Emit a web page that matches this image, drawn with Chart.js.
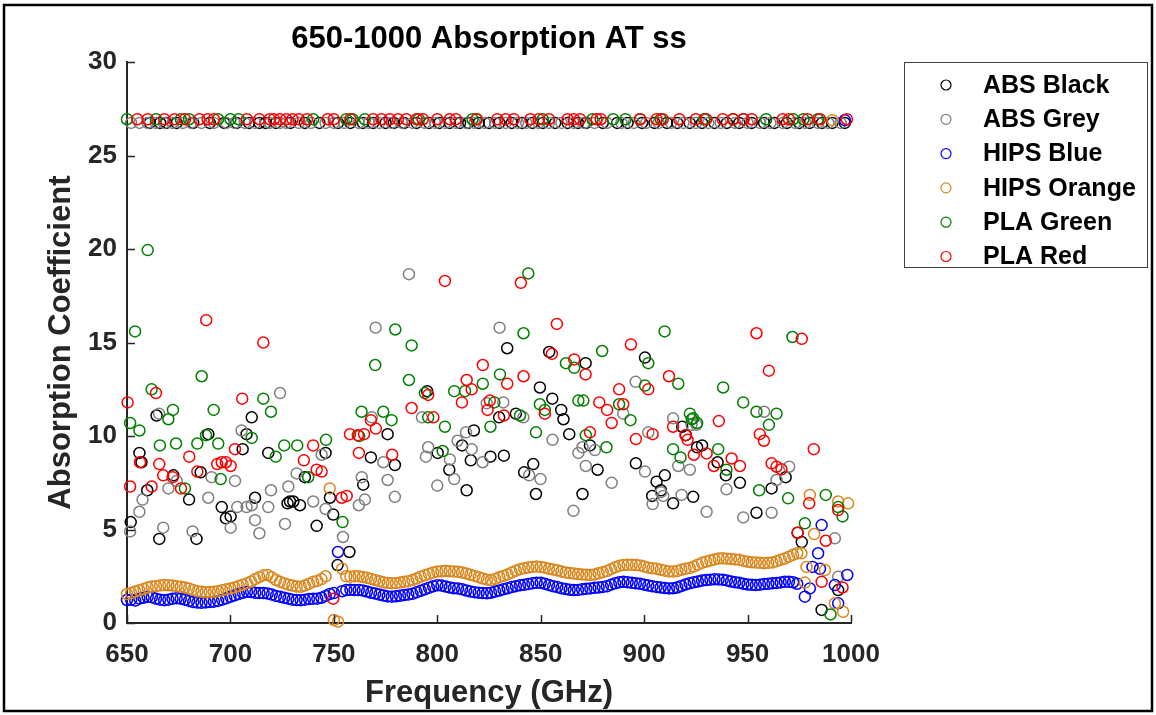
<!DOCTYPE html>
<html><head><meta charset="utf-8">
<script src="https://cdn.jsdelivr.net/npm/chart.js@4.4.0/dist/chart.umd.min.js"></script>
<style>html,body{margin:0;padding:0;background:#fff;}#wrap{width:1156px;height:715px;position:relative;}</style>
</head><body><div id="wrap"><canvas id="c" width="1156" height="715"></canvas></div>
<script>
// ---------- DATA ----------
const seriesNames = ['ABS Black','ABS Grey','HIPS Blue','HIPS Orange','PLA Green','PLA Red'];
const xTicks = [650,700,750,800,850,900,950,1000];
const yTicks = [0,5,10,15,20,25,30];

// common frequency grid of the continuous HIPS traces (GHz)
const gridFreq = [650,652,654,656,658,660,662,664,666,668,
670,672,674,676,678,680,682,684,686,688,
690,692,694,696,698,700,702,704,706,708,
710,712,714,716,718,720,722,724,726,728,
730,732,734,736,738,740,742,744,746,748,
750,752,754,756,758,760,762,764,766,768,
770,772,774,776,778,780,782,784,786,788,
790,792,794,796,798,800,802,804,806,808,
810,812,814,816,818,820,822,824,826,828,
830,832,834,836,838,840,842,844,846,848,
850,852,854,856,858,860,862,864,866,868,
870,872,874,876,878,880,882,884,886,888,
890,892,894,896,898,900,902,904,906,908,
910,912,914,916,918,920,922,924,926,928,
930,932,934,936,938,940,942,944,946,948,
950,952,954,956,958,960,962,964,966,968,
970,972,974];

const blueVal = [1.23,1.25,1.20,1.30,1.35,1.40,1.38,1.30,1.25,1.22,
1.25,1.30,1.32,1.30,1.25,1.18,1.12,1.09,1.08,1.10,
1.12,1.14,1.18,1.25,1.32,1.40,1.48,1.55,1.62,1.67,
1.66,1.62,1.60,1.60,1.58,1.52,1.45,1.40,1.35,1.30,
1.25,1.23,1.22,1.25,1.28,1.30,1.30,1.35,1.45,1.55,
1.60,3.80,1.70,1.76,1.78,1.76,1.76,1.74,1.68,1.62,
1.58,1.52,1.47,1.42,1.41,1.43,1.46,1.50,1.52,1.56,
1.64,1.72,1.80,1.88,1.96,2.02,2.00,1.95,1.90,1.86,
1.84,1.80,1.74,1.68,1.65,1.62,1.60,1.59,1.62,1.68,
1.74,1.80,1.86,1.92,1.97,2.02,2.04,2.08,2.12,2.15,
2.15,2.10,2.03,1.96,1.92,1.86,1.82,1.78,1.76,1.77,
1.80,1.83,1.85,1.88,1.90,1.93,1.96,2.05,2.12,2.18,
2.20,2.18,2.15,2.12,2.10,2.05,2.00,1.96,1.93,1.90,
1.87,1.85,1.86,1.90,1.98,2.06,2.12,2.18,2.22,2.27,
2.30,2.32,2.34,2.33,2.32,2.28,2.22,2.18,2.15,2.10,
2.06,2.04,2.03,2.05,2.08,2.10,2.12,2.14,2.17,2.20,
2.20,2.18,2.10];

const orangeVal = [1.55,1.60,1.68,1.75,1.82,1.90,1.95,1.97,2.00,2.03,
2.02,2.00,1.97,1.94,1.90,1.84,1.76,1.70,1.67,1.65,
1.66,1.67,1.70,1.75,1.80,1.85,1.90,1.98,2.05,2.12,
2.22,2.35,2.45,2.55,2.57,2.45,2.30,2.20,2.12,2.05,
2.00,1.95,1.94,2.00,2.10,2.20,2.25,2.35,2.50,7.20,
0.16,0.07,2.90,2.50,2.48,2.50,2.50,2.46,2.42,2.36,
2.30,2.24,2.18,2.14,2.12,2.13,2.16,2.20,2.24,2.30,
2.38,2.48,2.55,2.62,2.70,2.75,2.77,2.78,2.77,2.75,
2.74,2.70,2.65,2.58,2.52,2.45,2.38,2.32,2.30,2.36,
2.45,2.52,2.60,2.70,2.80,2.88,2.93,2.97,3.00,3.02,
3.00,2.96,2.90,2.86,2.82,2.76,2.70,2.67,2.65,2.62,
2.60,2.58,2.57,2.60,2.66,2.72,2.78,2.88,2.98,3.06,
3.10,3.12,3.12,3.10,3.08,3.02,2.96,2.93,2.90,2.85,
2.80,2.76,2.75,2.78,2.85,2.90,2.94,3.02,3.12,3.22,
3.28,3.34,3.40,3.45,3.46,3.44,3.42,3.40,3.38,3.32,
3.28,3.25,3.23,3.22,3.20,3.22,3.24,3.30,3.38,3.45,
3.55,3.65,3.73];

// points beyond the continuous trace: [frequency, value]
const blueExtra = [[977.7,1.41],[980.1,1.85],[981.4,3.0],[984.1,3.73],[985,2.9],[985.8,5.24],[992.2,2.03],[993.8,1.05],[998.2,2.57],[997,26.9]];
const orangeExtra = [[976,3.73],[977.7,2.16],[978.5,3.0],[980.1,6.85],[982.2,4.76],[987.4,2.83],[991,26.9],[992.2,1.05],[993.8,6.5],[996.2,0.6],[998.6,6.4]];

const blackPoints = [[651.8,5.4],[656,9.1],[657,8.6],[659.8,7.1],[664.3,11.1],[665.6,4.5],[672.4,7.9],[680,6.6],[683.6,4.5],[685.6,8.06],
[689.3,10.1],[695.8,6.2],[697.8,5.6],[700.1,5.7],[705.9,9.3],[707.8,10.1],[710.3,11.0],[711.9,6.7],[718.3,9.1],[727.6,6.4],
[728.8,6.5],[730.4,6.5],[733.6,6.3],[736,7.8],[741.7,5.2],[746,9.1],[748.1,6.7],[749.7,5.8],[751.8,3.1],[757.5,3.8],
[764.2,7.4],[767.9,8.86],[776,10.1],[779.5,8.45],[795.1,12.4],[800.2,9.1],[805.8,8.2],[812,9.5],[814.2,7.1],[816.2,8.7],
[817.7,10.3],[825.7,8.9],[829.9,11.0],[832.2,8.95],[833.8,14.7],[838,11.2],[842,8.06],[846.4,8.5],[847.7,6.9],[849.6,12.6],
[854.1,14.5],[855.6,12.0],[859.9,11.4],[861,10.9],[863.8,10.1],[870.2,6.9],[871.7,13.9],[873.8,9.5],[877.5,8.2],[896,8.54],
[900.4,14.2],[903.9,6.8],[906,7.56],[908.1,7.1],[910,7.9],[914,6.4],[918.4,10.5],[920.2,10.05],[923.7,6.75],[925.6,9.4],
[928,9.5],[935.5,8.6],[939.5,7.9],[946.3,7.5],[954.3,5.9],[961.6,7.2],[968.4,7.8],[974.2,4.83],[976.2,4.33],[985.8,0.7],[993.8,1.76]];

const greyPoints = [[651.5,4.9],[656,5.95],[657.5,6.6],[665.5,11.2],[667.5,5.1],[670,7.2],[674,7.6],[681.7,4.9],[689.3,6.7],[690.9,7.8],
[700.1,5.1],[702.2,7.6],[703.3,6.2],[705.4,10.3],[707.8,6.2],[710.3,6.3],[711.9,5.5],[714,4.8],[718.3,6.2],[719.6,7.1],
[724,12.3],[726.4,5.3],[728,7.3],[732,8.0],[740,6.5],[744.1,9.0],[746,6.1],[754.4,4.6],[762.1,6.3],[763.5,7.8],
[765,6.6],[768.3,11.0],[770.2,15.8],[773.9,8.6],[776,7.65],[779.5,6.75],[786.3,18.66],[792.6,11.0],[794.5,8.9],[795.6,9.4],
[800,7.35],[806.1,8.75],[808.2,7.7],[809.8,9.75],[813.9,10.2],[816.6,9.3],[821.9,8.6],[823.9,11.75],[830.1,15.8],[831.9,11.8],
[841.6,11.0],[844.4,7.9],[849.9,7.7],[855.7,9.8],[865.8,6.0],[868.2,9.1],[870.2,9.4],[871.8,8.4],[876.2,9.25],[884.3,7.5],
[889.9,11.2],[895.9,12.9],[900.4,8.1],[902,10.2],[904.1,6.36],[908.1,7.0],[909.2,6.8],[914,10.95],[916.5,8.4],[918.1,6.85],
[922.1,8.2],[922.9,10.6],[925.3,10.6],[930.2,5.95],[939.8,7.15],[947.9,5.65],[958,11.3],[961.6,5.9],[964,7.65],[970.1,8.36],
[992.2,4.53],[993.8,2.48]];

const greenPoints = [[651.5,10.7],[653.9,15.6],[656,10.3],[660,19.95],[661.9,12.5],[665.9,9.5],[670,10.9],[672.2,11.4],[673.7,9.6],[678,7.2],
[684,9.6],[686.1,13.2],[688.2,10.05],[691.9,11.4],[694.1,9.6],[695.3,7.7],[710.3,9.9],[715.9,12.0],[719.6,11.3],[721.9,8.9],
[726,9.5],[732.3,9.5],[737.6,7.8],[746.2,9.8],[754.2,5.4],[762.2,10.0],[763.4,11.3],[770,13.8],[773.9,11.3],[777.9,10.85],
[779.7,15.7],[786.3,13.0],[787.6,14.85],[794,12.3],[795.6,11.0],[802.6,9.2],[803.7,10.5],[808.2,12.4],[813.4,12.4],[822,12.8],
[825.7,10.5],[827.6,11.8],[830.3,13.3],[840,11.1],[841.7,15.5],[844,18.7],[847.7,10.2],[849.6,11.7],[852,11.4],[862.2,13.9],
[866.2,13.65],[868.2,11.9],[870.6,11.9],[871.8,10.05],[879.7,14.55],[881.8,9.4],[887.9,11.7],[893.4,10.85],[902,13.9],[900.4,12.7],
[909.9,15.6],[914,9.3],[916.5,12.8],[917.6,8.86],[922.1,11.2],[923,10.9],[923.7,10.95],[925.6,10.7],[935.8,9.3],[938.2,12.6],
[939.8,8.2],[947.9,11.8],[954.3,11.3],[955.6,7.1],[960.3,10.6],[964,11.2],[969.6,6.67],[971.7,15.3],[977.7,5.33],[987.8,6.85],
[990.1,0.46],[993.8,6.2],[995.9,5.7]];

const redPoints = [[650.3,11.8],[651.5,7.3],[656.3,8.6],[661.9,7.3],[664,12.3],[665.6,8.5],[667.5,7.9],[672.1,7.8],[676.1,7.2],[680.1,8.9],
[684,8.1],[688.3,16.2],[693.6,8.5],[695.8,8.6],[697.8,8.6],[700.1,8.4],[702.2,9.3],[705.7,12.0],[715.9,15.0],[735.5,8.7],
[740,9.5],[741.7,8.2],[744.1,8.1],[749.7,1.3],[753.8,6.7],[756.2,6.8],[757.8,10.1],[761.6,10.05],[762.1,9.1],[764.6,10.1],
[767.9,10.85],[770.3,10.4],[778.2,9.0],[787.6,11.5],[795.6,12.2],[798.1,11.0],[803.7,18.3],[811.9,11.8],[814.2,13.0],[816.6,12.5],
[822,13.8],[824.3,11.4],[825.4,11.9],[832.2,11.1],[833.8,12.8],[840.4,18.2],[841.7,13.2],[852,11.2],[855.4,14.4],[857.8,16.0],
[866.2,14.1],[871.7,13.3],[873.8,10.2],[878.3,11.8],[882.1,11.4],[884.3,10.7],[887.9,12.5],[889.9,11.7],[893.6,14.9],[896,9.84],
[902,12.5],[904.1,10.1],[912,13.2],[914,10.5],[920,10.05],[921,9.8],[924,9.0],[930.2,9.07],[933.7,8.4],[936.1,10.8],
[942.3,8.8],[946.3,8.4],[954.3,15.5],[955.9,10.1],[957.9,9.75],[960.3,13.5],[961.6,8.54],[964,8.36],[966.4,8.22],[974.2,4.83],
[976.2,15.2],[979.8,6.4],[982,9.3],[985.8,2.2],[987.8,4.4],[993.8,6.04],[995.9,1.9]];

// saturated readings along the top row
const blackTopValue = 26.75, greyTopValue = 26.75, greenTopValue = 26.95, redTopValue = 26.95;
const blackTopFreq = [661,666,669,674,682,690,697,703,709,714,717,722,729,736,743,752,758,764,769,775,779,784,790,796,801,806,811,815,820,825,830,836,841,846,851,857,863,868,872,880,887,892,899,905,911,916,922,928,934,940,946,952,958,963,969,975,980,986,991,997];
const greyTopFreq = [652,656,660,664,668,672,677,681,686,692,698,702,707,712,719,724,727,733,739,746,750,755,762,767,772,778,783,788,794,799,804,809,814,818,823,828,833,839,843,849,854,860,866,871,876,882,889,895,901,907,913,919,925,931,937,944,950,956,961,967,973,978,984,989,995];
const greenTopFreq = [650,664,676,680,694,700,704,740,756,759,765,791,817,819,851,875,885,891,898,908,929,943,948,959,972,977,984];
const redTopFreq = [655,660,668,673,678,685,689,692,708,714,719,721,724,727,730,733,737,747,750,758,769,773,777,781,785,790,793,800,806,809,819,829,833,837,845,849,854,863,866,869,877,879,898,906,909,917,925,930,938,943,948,952,967,970,979,985,998];

const seriesColors = ['#000000','#808080','#0000ff','#d9861c','#008000','#ff0000'];

// ---------- BUILD ----------
const toPts = arr => arr.map(p => ({x: p[0], y: p[1]}));
const topRow = (fr, v) => fr.map(f => ({x: f, y: v}));
const onGrid = vals => gridFreq.map((f, i) => ({x: f, y: vals[i]}));

const seriesData = [
  toPts(blackPoints).concat(topRow(blackTopFreq, blackTopValue)),
  toPts(greyPoints).concat(topRow(greyTopFreq, greyTopValue)),
  onGrid(blueVal).concat(toPts(blueExtra)),
  onGrid(orangeVal).concat(toPts(orangeExtra)),
  toPts(greenPoints).concat(topRow(greenTopFreq, greenTopValue)),
  toPts(redPoints).concat(topRow(redTopFreq, redTopValue))
];

const FONT = "'Liberation Sans', Arial, Helvetica, sans-serif";
const AX = '#262626';

const chartDatasets = seriesNames.map((n, i) => ({
  label: n,
  data: seriesData[i],
  showLine: false,
  pointStyle: 'circle',
  pointRadius: 5.5,
  pointHoverRadius: 5.5,
  pointBorderWidth: 1.5,
  borderColor: seriesColors[i],
  backgroundColor: 'rgba(0,0,0,0)',
  pointBackgroundColor: 'rgba(0,0,0,0)',
  clip: false,
  order: 6 - i
}));

const framePlugin = {
  id: 'framePlugin',
  beforeDraw(chart) {
    const c = chart.ctx; c.save(); c.fillStyle = '#fff'; c.fillRect(0, 0, chart.width, chart.height); c.restore();
  },
  afterDraw(chart) {
    const c = chart.ctx;
    c.save();
    c.strokeStyle = '#000'; c.lineWidth = 2.5;
    c.strokeRect(4, 5, 1148, 706);
    const ca = chart.chartArea;
    const xs = chart.scales.x, ys = chart.scales.y;
    c.strokeStyle = AX; c.lineWidth = 1.5;
    c.beginPath();
    xs.ticks.forEach(t => { const p = Math.round(xs.getPixelForValue(t.value)) + 0.5; c.moveTo(p, ca.bottom); c.lineTo(p, ca.bottom - 8); });
    ys.ticks.forEach(t => { const p = Math.round(ys.getPixelForValue(t.value)) + 0.5; c.moveTo(ca.left, p); c.lineTo(ca.left + 8, p); });
    c.stroke();
    // legend
    c.lineWidth = 1;
    c.fillStyle = '#fff';
    c.fillRect(904.5, 62.5, 243, 205);
    c.strokeStyle = '#404040';
    c.strokeRect(904.5, 62.5, 243, 205);
    c.font = 'bold 25px ' + FONT;
    c.textBaseline = 'middle'; c.textAlign = 'left';
    chart.data.datasets.forEach((d, i) => {
      const cy = 85 + i * 34.3;
      c.beginPath(); c.arc(946, cy, 5, 0, Math.PI * 2);
      c.strokeStyle = d.borderColor; c.lineWidth = 1.2; c.stroke();
      c.fillStyle = '#000'; c.fillText(d.label, 983, cy + 1);
    });
    c.restore();
  }
};

new Chart(document.getElementById('c'), {
  type: 'scatter',
  data: { datasets: chartDatasets },
  options: {
    responsive: false,
    devicePixelRatio: 1,
    animation: false,
    events: [],
    layout: { padding: { left: 0, top: 0, right: 305, bottom: 0 } },
    plugins: {
      legend: { display: false },
      tooltip: { enabled: false },
      title: {
        display: true, text: '650-1000 Absorption AT ss', fullSize: false,
        color: '#000', font: { family: FONT, size: 31, weight: 'bold', lineHeight: 1.2 },
        padding: { top: 21, bottom: 4 }
      }
    },
    scales: {
      x: {
        type: 'linear', min: 650, max: 1000,
        afterFit: s => { s.height = 92; },
        afterBuildTicks: s => { s.ticks = xTicks.map(v => ({value: v})); },
        ticks: { color: AX, font: { family: FONT, size: 26, weight: 'bold' }, padding: 16, maxRotation: 0, autoSkip: false, callback: v => String(v) },
        grid: { display: false, drawTicks: false, tickLength: 0 },
        border: { display: true, color: AX, width: 2 },
        title: { display: true, text: 'Frequency (GHz)', color: AX, font: { family: FONT, size: 31, weight: 'bold', lineHeight: 1.2 }, padding: { top: 0, bottom: 3 } }
      },
      y: {
        type: 'linear', min: 0, max: 30,
        afterFit: s => { s.width = 127; },
        afterBuildTicks: s => { s.ticks = yTicks.map(v => ({value: v})); },
        ticks: { color: AX, font: { family: FONT, size: 26, weight: 'bold' }, padding: 10, callback: v => String(v) },
        grid: { display: false, drawTicks: false, tickLength: 0 },
        border: { display: true, color: AX, width: 2 },
        title: { display: true, text: 'Absorption Coefficient', color: AX, font: { family: FONT, size: 31, weight: 'bold', lineHeight: 1.2 }, padding: { top: 43, bottom: 0 } }
      }
    }
  },
  plugins: [framePlugin]
});
</script></body></html>
